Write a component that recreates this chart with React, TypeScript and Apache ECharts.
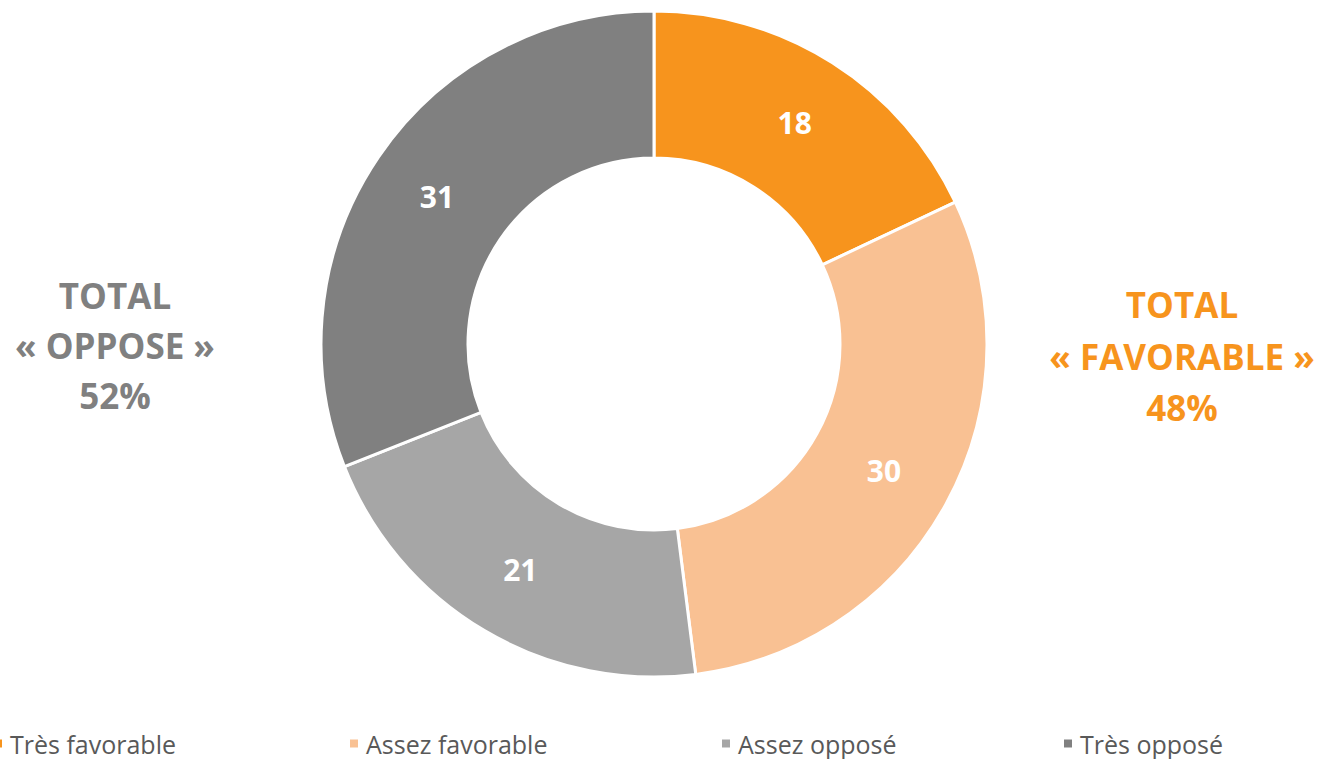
import React, { useEffect, useRef } from "react";
import * as echarts from "echarts";

const categories = ["Très favorable", "Assez favorable", "Assez opposé", "Très opposé"];
const values = [18, 30, 21, 31];
const colors = ["#F7941D", "#F9C193", "#A6A6A6", "#808080"];
const legendLeft = [-8, 348, 720, 1062];
const totalOppose = ["TOTAL", "« OPPOSE »", "52%"];
const totalFavorable = ["TOTAL", "« FAVORABLE »", "48%"];

export default function App() {
  const ref = useRef<HTMLDivElement>(null);
  useEffect(() => {
    if (!ref.current) return;
    const chart = echarts.init(ref.current, null, { renderer: "svg" });
    const font = "'Open Sans', 'Noto Sans', sans-serif";
    chart.setOption({
      animation: false,
      backgroundColor: "#ffffff",
      color: colors,
      legend: categories.map((c, i) => ({
        data: [c],
        left: legendLeft[i],
        top: 731,
        padding: 0,
        itemWidth: 10,
        itemHeight: 10,
        itemGap: 0,
        icon: "rect",
        textStyle: { color: "#595959", fontSize: 25, fontFamily: font, lineHeight: 25, padding: [0, 0, 0, 2] },
        selectedMode: false,
      })),
      graphic: [
        {
          type: "text",
          x: 115,
          y: 270,
          style: {
            text: totalOppose.join("\n"),
            fill: "#808080",
            font: `bold 35px ${font}`,
            lineHeight: 50,
            align: "center",
            verticalAlign: "top",
          },
        },
        {
          type: "text",
          x: 1182,
          y: 279,
          style: {
            text: totalFavorable.join("\n"),
            fill: "#F7941D",
            font: `bold 35px ${font}`,
            lineHeight: 51.5,
            align: "center",
            verticalAlign: "top",
          },
        },
      ],
      series: [
        {
          type: "pie",
          center: [654, 344],
          radius: [186, 333],
          startAngle: 90,
          clockwise: true,
          silent: true,
          itemStyle: { borderColor: "#ffffff", borderWidth: 3 },
          label: {
            show: true,
            position: "inside",
            formatter: "{c}",
            color: "#ffffff",
            fontSize: 30,
            fontWeight: "bold",
            fontFamily: font,
            padding: [6, 0, 0, 0],
          },
          labelLine: { show: false },
          data: categories.map((c, i) => ({ name: c, value: values[i] })),
        },
      ],
    });
    return () => chart.dispose();
  }, []);
  return (
    <div
      ref={ref}
      style={{ position: "fixed", left: 0, top: 0, width: 1320, height: 759 }}
    />
  );
}
